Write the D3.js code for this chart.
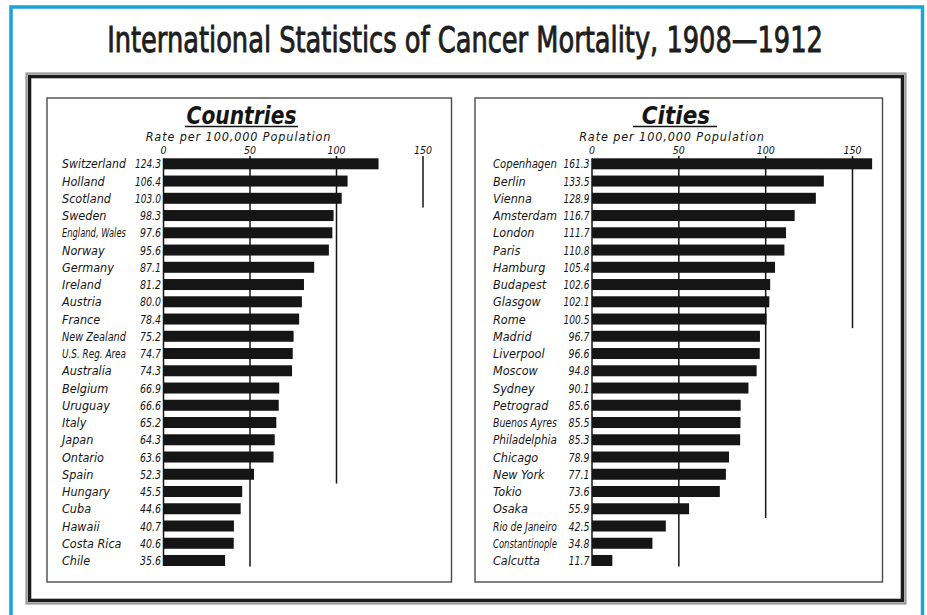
<!DOCTYPE html>
<html>
<head>
<meta charset="utf-8">
<script src="https://cdn.jsdelivr.net/npm/d3@7"></script>
<style>
  html, body { margin: 0; padding: 0; background: #fff; }
  svg { display: block; }
</style>
</head>
<body>
<svg id="chart" width="927" height="615"></svg>
<script>
// ---------- DATA ----------
const mainTitle = "International Statistics of Cancer Mortality, 1908\u20141912";
const axisCaption = "Rate per 100,000 Population";
const tickValues = [0, 50, 100, 150];

const countryTitle = "Countries";
const countries = ["Switzerland","Holland","Scotland","Sweden","England, Wales","Norway","Germany","Ireland","Austria","France","New Zealand","U.S. Reg. Area","Australia","Belgium","Uruguay","Italy","Japan","Ontario","Spain","Hungary","Cuba","Hawaii","Costa Rica","Chile"];
const countryRates = [124.3,106.4,103.0,98.3,97.6,95.6,87.1,81.2,80.0,78.4,75.2,74.7,74.3,66.9,66.6,65.2,64.3,63.6,52.3,45.5,44.6,40.7,40.6,35.6];
// last row each reference line (50, 100, 150) reaches down to
const countryGridEnd = ["Chile","Spain","Scotland"];

const cityTitle = "Cities";
const cities = ["Copenhagen","Berlin","Vienna","Amsterdam","London","Paris","Hamburg","Budapest","Glasgow","Rome","Madrid","Liverpool","Moscow","Sydney","Petrograd","Buenos Ayres","Philadelphia","Chicago","New York","Tokio","Osaka","Rio de Janeiro","Constantinople","Calcutta"];
const cityRates = [161.3,133.5,128.9,116.7,111.7,110.8,105.4,102.6,102.1,100.5,96.7,96.6,94.8,90.1,85.6,85.5,85.3,78.9,77.1,73.6,55.9,42.5,34.8,11.7];
const cityGridEnd = ["Calcutta","Osaka","Rome"];

// ---------- DRAW ----------
const svg = d3.select("#chart");
const ink = "#151515";
const hand = "'DejaVu Sans Condensed', 'DejaVu Sans', sans-serif";

// squeeze a text horizontally (via transform) so it is at most maxW wide
function fitWidth(sel, maxW) {
  sel.each(function() {
    const w = this.getComputedTextLength();
    if (w > maxW) {
      const x = +this.getAttribute("x"), y = +this.getAttribute("y");
      const s = maxW / w;
      this.setAttribute("transform", `translate(${x},${y}) scale(${s},1) translate(${-x},${-y})`);
    }
  });
}

// blue outer border
svg.append("rect").attr("x", 11).attr("y", 7).attr("width", 911.5).attr("height", 640)
  .attr("fill", "none").attr("stroke", "#1ba3dc").attr("stroke-width", 3.5);

// main title
svg.append("text").attr("x", 465).attr("y", 52)
  .attr("text-anchor", "middle")
  .attr("font-family", hand)
  .attr("font-size", 36).attr("fill", "#1e1e1e")
  .attr("stroke", "#1e1e1e").attr("stroke-width", 0.9)
  .text(mainTitle)
  .call(fitWidth, 716);

// double frame
svg.append("rect").attr("x", 26.5).attr("y", 73.5).attr("width", 879).attr("height", 530)
  .attr("fill", "none").attr("stroke", "#9a9a9a").attr("stroke-width", 2.2);
svg.append("rect").attr("x", 29.6).attr("y", 76.6).attr("width", 872.8).attr("height", 523.8)
  .attr("fill", "none").attr("stroke", "#1c1c1c").attr("stroke-width", 3.4);

function panel(cfg) {
  const g = svg.append("g");
  g.append("rect").attr("x", cfg.px).attr("y", 98).attr("width", cfg.pw).attr("height", 484)
    .attr("fill", "#fff").attr("stroke", "#4a4a4a").attr("stroke-width", 1.4);

  const x = d3.scaleLinear().domain([0, 150]).range([cfg.x0, cfg.x150]);
  const y = d3.scalePoint().domain(cfg.names).range([163.8, 560.5]);
  const step = y.step();
  const barH = 11;

  // title + underline
  g.append("text").attr("x", cfg.titleX).attr("y", 124)
    .attr("text-anchor", "middle").attr("font-family", hand)
    .attr("font-style", "italic").attr("font-weight", "bold")
    .attr("font-size", 24).attr("fill", ink)
    .text(cfg.title)
    .call(fitWidth, cfg.titleW);
  g.append("line").attr("x1", cfg.ulX1).attr("x2", cfg.ulX2).attr("y1", 126.5).attr("y2", 126.5)
    .attr("stroke", ink).attr("stroke-width", 1.6);

  // caption
  g.append("text").attr("x", cfg.capX).attr("y", 141)
    .attr("text-anchor", "middle").attr("font-family", hand).attr("font-style", "italic")
    .attr("font-size", 12.5).attr("fill", ink)
    .attr("letter-spacing", 0.9)
    .text(axisCaption)
    .call(fitWidth, cfg.capW);

  // tick labels
  g.selectAll(".tick").data(tickValues).join("text")
    .attr("x", d => x(d)).attr("y", 153.5)
    .attr("text-anchor", "middle").attr("font-family", hand).attr("font-style", "italic")
    .attr("font-size", 10.5).attr("fill", ink)
    .text(d => d);

  // reference lines (50, 100, 150)
  const refs = tickValues.slice(1);
  g.selectAll(".ref").data(refs).join("line")
    .attr("x1", d => x(d)).attr("x2", d => x(d))
    .attr("y1", 156)
    .attr("y2", (d, i) => y(cfg.gridEnd[i]) + (i === 0 ? barH / 2 + 0.5 : step / 2 + 0.5))
    .attr("stroke", ink).attr("stroke-width", 1.5);

  // zero axis
  g.append("line").attr("x1", x(0)).attr("x2", x(0))
    .attr("y1", y(cfg.names[0]) - barH / 2).attr("y2", y(cfg.names[cfg.names.length - 1]) + barH / 2)
    .attr("stroke", ink).attr("stroke-width", 1.5);

  // bars
  g.selectAll(".bar").data(cfg.values).join("rect")
    .attr("x", x(0))
    .attr("y", (d, i) => y(cfg.names[i]) - barH / 2)
    .attr("width", d => x(d) - x(0))
    .attr("height", barH)
    .attr("fill", ink);

  // names
  g.selectAll(".name").data(cfg.names).join("text")
    .attr("x", cfg.nameX).attr("y", d => y(d) + 4.6)
    .attr("font-family", hand).attr("font-style", "italic")
    .attr("font-size", 12.5).attr("fill", ink)
    .text(d => d)
    .call(fitWidth, cfg.maxNameW);

  // values
  g.selectAll(".val").data(cfg.values).join("text")
    .attr("x", cfg.x0 - 2.5).attr("y", (d, i) => y(cfg.names[i]) + 4.6)
    .attr("text-anchor", "end")
    .attr("font-family", hand).attr("font-style", "italic")
    .attr("font-size", 12.5).attr("fill", ink)
    .text(d => d.toFixed(1))
    .each(function(d) {
      d3.select(this).call(fitWidth, d >= 100 ? 26 : 21);
    });
}

panel({
  px: 47, pw: 404.5, x0: 163.5, x150: 423,
  names: countries, values: countryRates, gridEnd: countryGridEnd,
  title: countryTitle, titleX: 241.5, titleW: 110, ulX1: 185, ulX2: 298,
  capX: 238.5, capW: 189, nameX: 62, maxNameW: 64
});
panel({
  px: 475, pw: 407.5, x0: 592, x150: 852.5,
  names: cities, values: cityRates, gridEnd: cityGridEnd,
  title: cityTitle, titleX: 676, titleW: 70, ulX1: 633, ulX2: 717,
  capX: 672, capW: 199, nameX: 493, maxNameW: 64
});
</script>
</body>
</html>
